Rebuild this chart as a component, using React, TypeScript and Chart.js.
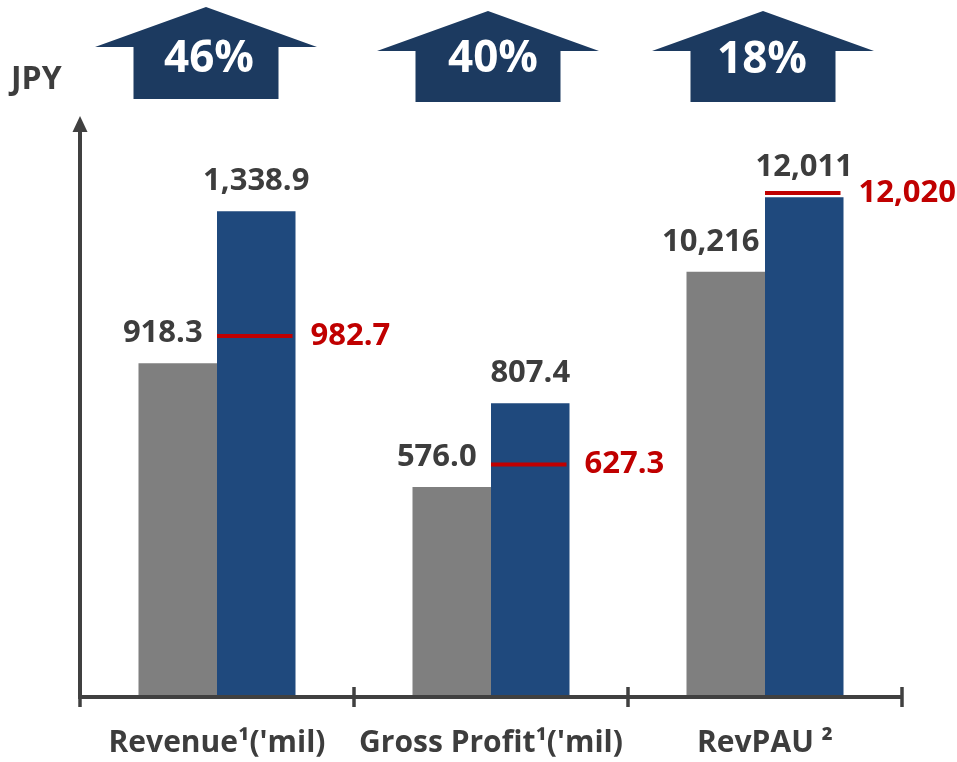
import React, { useEffect, useRef } from "react";
import { Chart, registerables } from "chart.js";

Chart.register(...registerables);

const categories = ["Revenue¹('mil)", "Gross Profit¹('mil)", "RevPAU ²"];
const priorValues = [918.3, 576.0, 10216];
const currentValues = [1338.9, 807.4, 12011];
const targetValues = [982.7, 627.3, 12020];
const decimals = [1, 1, 0];
const valueAxis = ["y", "y", "y2"];

const FONT = "'Open Sans', 'DejaVu Sans', sans-serif";
const TEXT = "#3d3d3d";
const GRAY = "#7f7f7f";
const BLUE = "#1f497d";
const RED = "#c00000";
const NAVY = "#1c3a60";

const fmt = (v: number, d: number) =>
  v.toLocaleString("en-US", { minimumFractionDigits: d, maximumFractionDigits: d });

const arrows = [
  { cx: 206, apexY: 7, headY: 47, bottom: 99, tx: 209, ty: 59 },
  { cx: 488, apexY: 11, headY: 51, bottom: 102, tx: 493, ty: 59 },
  { cx: 763, apexY: 11, headY: 51, bottom: 102, tx: 762, ty: 60 },
];
const HEAD_HALF = 111;
const BODY_HALF = 72.5;

const decorPlugin = {
  id: "decor",
  afterDatasetsDraw(chart: any) {
    const ctx = chart.ctx;
    const area = chart.chartArea;
    ctx.save();

    // axes
    ctx.strokeStyle = "#404040";
    ctx.fillStyle = "#404040";
    ctx.lineWidth = 4;
    const axisY = area.bottom + 2;
    ctx.beginPath();
    ctx.moveTo(area.left - 2, axisY);
    ctx.lineTo(area.right, axisY);
    ctx.stroke();
    ctx.beginPath();
    ctx.moveTo(area.left, axisY);
    ctx.lineTo(area.left, area.top + 14);
    ctx.stroke();
    ctx.beginPath();
    ctx.moveTo(area.left, area.top - 1);
    ctx.lineTo(area.left - 7.5, area.top + 15);
    ctx.lineTo(area.left + 7.5, area.top + 15);
    ctx.closePath();
    ctx.fill();
    ctx.lineWidth = 3.5;
    const n = categories.length;
    for (let i = 0; i <= n; i++) {
      const x = area.left + (i * (area.right - area.left)) / n;
      ctx.beginPath();
      ctx.moveTo(x, axisY - 10);
      ctx.lineTo(x, axisY + 10);
      ctx.stroke();
    }

    // value labels, target lines
    for (let i = 0; i < n; i++) {
      const axis = valueAxis[i];
      const gi = axis === "y" ? 0 : 2;
      const bi = axis === "y" ? 1 : 3;
      const gEl = chart.getDatasetMeta(gi).data[i];
      const bEl = chart.getDatasetMeta(bi).data[i];
      ctx.font = `bold 31px ${FONT}`;
      ctx.textBaseline = "middle";
      ctx.textAlign = "center";
      ctx.fillStyle = TEXT;
      ctx.fillText(fmt(priorValues[i], decimals[i]), gEl.x - 15, gEl.y - 30);
      ctx.fillText(fmt(currentValues[i], decimals[i]), bEl.x, bEl.y - 30);

      const ty = chart.scales[axis].getPixelForValue(targetValues[i]) - 4;
      const w = bEl.width;
      ctx.strokeStyle = RED;
      ctx.lineWidth = 4;
      ctx.beginPath();
      ctx.moveTo(bEl.x - w / 2, ty);
      ctx.lineTo(bEl.x + w / 2 - 3, ty);
      ctx.stroke();
      ctx.fillStyle = RED;
      ctx.textAlign = "left";
      ctx.fillText(fmt(targetValues[i], decimals[i]), bEl.x + w / 2 + 15, ty);
    }

    // JPY
    ctx.fillStyle = TEXT;
    ctx.textAlign = "left";
    ctx.font = `bold 32px ${FONT}`;
    ctx.fillText("JPY", 11, 80);

    // growth arrows
    arrows.forEach((a, i) => {
      ctx.fillStyle = NAVY;
      ctx.beginPath();
      ctx.moveTo(a.cx, a.apexY);
      ctx.lineTo(a.cx + HEAD_HALF, a.headY);
      ctx.lineTo(a.cx + BODY_HALF, a.headY);
      ctx.lineTo(a.cx + BODY_HALF, a.bottom);
      ctx.lineTo(a.cx - BODY_HALF, a.bottom);
      ctx.lineTo(a.cx - BODY_HALF, a.headY);
      ctx.lineTo(a.cx - HEAD_HALF, a.headY);
      ctx.closePath();
      ctx.fill();
      const pct = Math.round((currentValues[i] / priorValues[i] - 1) * 100) + "%";
      ctx.fillStyle = "#ffffff";
      ctx.textAlign = "center";
      ctx.textBaseline = "middle";
      ctx.font = `bold 44px ${FONT}`;
      ctx.fillText(pct, a.tx, a.ty);
    });

    ctx.restore();
  },
};

export default function App() {
  const ref = useRef<HTMLCanvasElement | null>(null);
  useEffect(() => {
    if (!ref.current) return;
    const pick = (vals: number[], ax: string) =>
      vals.map((v, i) => (valueAxis[i] === ax ? v : null));
    const common = { categoryPercentage: 0.573, barPercentage: 1, skipNull: true, borderWidth: 0 };
    const chart = new Chart(ref.current, {
      type: "bar",
      data: {
        labels: categories,
        datasets: [
          { ...common, label: "Prior", data: pick(priorValues, "y"), backgroundColor: GRAY, yAxisID: "y" },
          { ...common, label: "Current", data: pick(currentValues, "y"), backgroundColor: BLUE, yAxisID: "y" },
          { ...common, label: "Prior RevPAU", data: pick(priorValues, "y2"), backgroundColor: GRAY, yAxisID: "y2" },
          { ...common, label: "Current RevPAU", data: pick(currentValues, "y2"), backgroundColor: BLUE, yAxisID: "y2" },
        ] as any,
      },
      options: {
        animation: false,
        responsive: false,
        layout: { padding: { left: 80, right: 55, top: 117, bottom: 0 } },
        plugins: { legend: { display: false }, tooltip: { enabled: false } },
        scales: {
          x: {
            grid: { display: false, drawTicks: false },
            border: { display: false },
            ticks: {
              font: { family: FONT, weight: "bold", size: 30 },
              color: TEXT,
              padding: 30,
              maxRotation: 0,
              autoSkip: false,
            },
            afterFit: (s: any) => {
              s.height = 67;
            },
          },
          y: { display: false, min: 0, max: 1600 },
          y2: { display: false, min: 0, max: 13950, position: "left" },
        },
      } as any,
      plugins: [decorPlugin],
    });
    return () => chart.destroy();
  }, []);
  return (
    <div style={{ position: "absolute", left: 0, top: 0, width: 957, height: 762 }}>
      <canvas ref={ref} width={957} height={762} />
    </div>
  );
}
